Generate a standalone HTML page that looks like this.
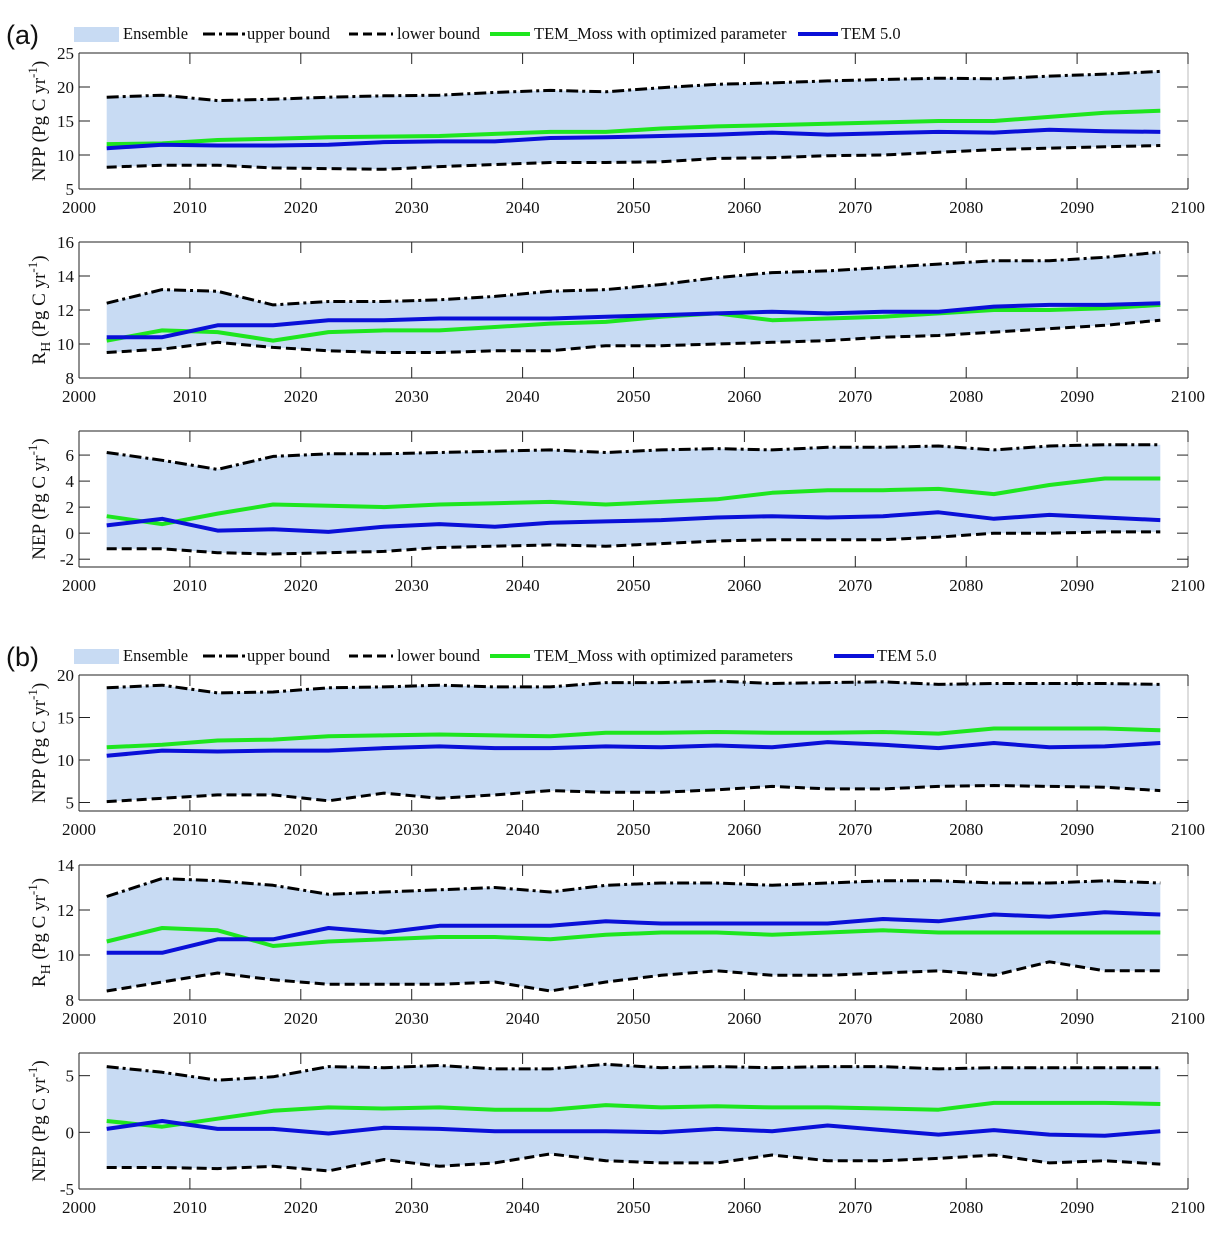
<!DOCTYPE html>
<html><head><meta charset="utf-8">
<style>
html,body{margin:0;padding:0;background:#fff;}
svg{display:block;font-family:"Liberation Serif",serif;}
.lab{font-family:"Liberation Sans",sans-serif;}
</style></head>
<body>
<svg id="chart" width="1220" height="1233" viewBox="0 0 1220 1233" xmlns="http://www.w3.org/2000/svg"></svg>
<script>
const years = [2002.5,2007.5,2012.5,2017.5,2022.5,2027.5,2032.5,2037.5,2042.5,2047.5,2052.5,2057.5,2062.5,2067.5,2072.5,2077.5,2082.5,2087.5,2092.5,2097.5];
const xTicks = [2000,2010,2020,2030,2040,2050,2060,2070,2080,2090,2100];

const aNppUpper = [18.5,18.8,18.0,18.2,18.5,18.7,18.8,19.2,19.5,19.3,19.9,20.4,20.6,20.9,21.1,21.3,21.2,21.6,21.9,22.3];
const aNppLower = [8.2,8.5,8.5,8.1,8.0,7.9,8.3,8.6,8.9,8.9,9.0,9.5,9.6,9.9,10.0,10.4,10.8,11.0,11.2,11.4];
const aNppMoss = [11.6,11.7,12.2,12.4,12.6,12.7,12.8,13.1,13.4,13.4,13.9,14.2,14.4,14.6,14.8,15.0,15.0,15.6,16.2,16.5];
const aNppTem = [11.0,11.5,11.4,11.4,11.5,11.9,12.0,12.0,12.5,12.6,12.8,13.0,13.3,13.0,13.2,13.4,13.3,13.7,13.5,13.4];

const aRhUpper = [12.4,13.2,13.1,12.3,12.5,12.5,12.6,12.8,13.1,13.2,13.5,13.9,14.2,14.3,14.5,14.7,14.9,14.9,15.1,15.4];
const aRhLower = [9.5,9.7,10.1,9.8,9.6,9.5,9.5,9.6,9.6,9.9,9.9,10.0,10.1,10.2,10.4,10.5,10.7,10.9,11.1,11.4];
const aRhMoss = [10.2,10.8,10.7,10.2,10.7,10.8,10.8,11.0,11.2,11.3,11.6,11.8,11.4,11.5,11.6,11.8,12.0,12.0,12.1,12.3];
const aRhTem = [10.4,10.4,11.1,11.1,11.4,11.4,11.5,11.5,11.5,11.6,11.7,11.8,11.9,11.8,11.9,11.9,12.2,12.3,12.3,12.4];

const aNepUpper = [6.2,5.6,4.9,5.9,6.1,6.1,6.2,6.3,6.4,6.2,6.4,6.5,6.4,6.6,6.6,6.7,6.4,6.7,6.8,6.8];
const aNepLower = [-1.2,-1.2,-1.5,-1.6,-1.5,-1.4,-1.1,-1.0,-0.9,-1.0,-0.8,-0.6,-0.5,-0.5,-0.5,-0.3,0.0,0.0,0.1,0.1];
const aNepMoss = [1.3,0.7,1.5,2.2,2.1,2.0,2.2,2.3,2.4,2.2,2.4,2.6,3.1,3.3,3.3,3.4,3.0,3.7,4.2,4.2];
const aNepTem = [0.6,1.1,0.2,0.3,0.1,0.5,0.7,0.5,0.8,0.9,1.0,1.2,1.3,1.2,1.3,1.6,1.1,1.4,1.2,1.0];

const bNppUpper = [18.5,18.8,17.9,18.0,18.5,18.6,18.8,18.6,18.6,19.1,19.1,19.3,19.0,19.1,19.2,18.9,19.0,19.0,19.0,18.9];
const bNppLower = [5.1,5.5,5.9,5.9,5.2,6.1,5.5,5.9,6.4,6.2,6.2,6.5,6.9,6.6,6.6,6.9,7.0,6.9,6.8,6.4];
const bNppMoss = [11.5,11.8,12.3,12.4,12.8,12.9,13.0,12.9,12.8,13.2,13.2,13.3,13.2,13.2,13.3,13.1,13.7,13.7,13.7,13.5];
const bNppTem = [10.5,11.1,11.0,11.1,11.1,11.4,11.6,11.4,11.4,11.6,11.5,11.7,11.5,12.1,11.8,11.4,12.0,11.5,11.6,12.0];

const bRhUpper = [12.6,13.4,13.3,13.1,12.7,12.8,12.9,13.0,12.8,13.1,13.2,13.2,13.1,13.2,13.3,13.3,13.2,13.2,13.3,13.2];
const bRhLower = [8.4,8.8,9.2,8.9,8.7,8.7,8.7,8.8,8.4,8.8,9.1,9.3,9.1,9.1,9.2,9.3,9.1,9.7,9.3,9.3];
const bRhMoss = [10.6,11.2,11.1,10.4,10.6,10.7,10.8,10.8,10.7,10.9,11.0,11.0,10.9,11.0,11.1,11.0,11.0,11.0,11.0,11.0];
const bRhTem = [10.1,10.1,10.7,10.7,11.2,11.0,11.3,11.3,11.3,11.5,11.4,11.4,11.4,11.4,11.6,11.5,11.8,11.7,11.9,11.8];

const bNepUpper = [5.8,5.3,4.6,4.9,5.8,5.7,5.9,5.6,5.6,6.0,5.7,5.8,5.7,5.8,5.8,5.6,5.7,5.7,5.7,5.7];
const bNepLower = [-3.1,-3.1,-3.2,-3.0,-3.4,-2.4,-3.0,-2.7,-1.9,-2.5,-2.7,-2.7,-2.0,-2.5,-2.5,-2.3,-2.0,-2.7,-2.5,-2.8];
const bNepMoss = [1.0,0.5,1.2,1.9,2.2,2.1,2.2,2.0,2.0,2.4,2.2,2.3,2.2,2.2,2.1,2.0,2.6,2.6,2.6,2.5];
const bNepTem = [0.3,1.0,0.3,0.3,-0.1,0.4,0.3,0.1,0.1,0.1,0.0,0.3,0.1,0.6,0.2,-0.2,0.2,-0.2,-0.3,0.1];

const svg = document.getElementById('chart');
const NS = 'http://www.w3.org/2000/svg';
function mk(tag, attrs, parent){ const e=document.createElementNS(NS,tag); for(const k in attrs) e.setAttribute(k,attrs[k]); (parent||svg).appendChild(e); return e; }

const X0=79, X1=1188;
function xs(v){ return X0 + (v-2000)/100*(X1-X0); }

const panels = [
 {name:'a-npp', top:53, bot:189, ymin:5, ymax:25, ticks:[5,10,15,20,25], up:aNppUpper, lo:aNppLower, moss:aNppMoss, tem:aNppTem, lab:'NPP'},
 {name:'a-rh', top:242, bot:378, ymin:8, ymax:16, ticks:[8,10,12,14,16], up:aRhUpper, lo:aRhLower, moss:aRhMoss, tem:aRhTem, lab:'RH'},
 {name:'a-nep', top:431, bot:567, ymin:-2.6, ymax:7.85, ticks:[-2,0,2,4,6], up:aNepUpper, lo:aNepLower, moss:aNepMoss, tem:aNepTem, lab:'NEP'},
 {name:'b-npp', top:675, bot:811, ymin:4, ymax:20, ticks:[5,10,15,20], up:bNppUpper, lo:bNppLower, moss:bNppMoss, tem:bNppTem, lab:'NPP'},
 {name:'b-rh', top:865, bot:1000, ymin:8, ymax:14, ticks:[8,10,12,14], up:bRhUpper, lo:bRhLower, moss:bRhMoss, tem:bRhTem, lab:'RH'},
 {name:'b-nep', top:1053, bot:1189, ymin:-5, ymax:7, ticks:[-5,0,5], up:bNepUpper, lo:bNepLower, moss:bNepMoss, tem:bNepTem, lab:'NEP'}
];

panels.forEach(p=>{
  const g = mk('g',{});
  
  
  const ys = v => p.bot - (v-p.ymin)/(p.ymax-p.ymin)*(p.bot-p.top);
  let d = years.map((y,i)=>(i?'L':'M')+xs(y).toFixed(1)+','+ys(p.up[i]).toFixed(1)).join('');
  for(let i=years.length-1;i>=0;i--) d+='L'+xs(years[i]).toFixed(1)+','+ys(p.lo[i]).toFixed(1);
  const band = mk('path',{d:d+'Z',fill:'#c8dbf3',stroke:'none'},g);
  
  
  const line=(arr,col,w,dash,nm)=>{
    const e=mk('polyline',{points:years.map((y,i)=>xs(y).toFixed(1)+','+ys(arr[i]).toFixed(1)).join(' '),fill:'none',stroke:col,'stroke-width':w,'stroke-dasharray':dash,'stroke-linejoin':'round'},g);
    
    
  };
  line(p.up,'#000',3,'12 4 3 4','upper-bound-line');
  line(p.lo,'#000',3,'10 5','lower-bound-line');
  line(p.moss,'#1ee61e',4,'none','tem-moss-line');
  line(p.tem,'#0a10d8',4,'none','tem5-line');
  mk('line',{x1:X0,y1:p.top,x2:X1,y2:p.top,stroke:'#222','stroke-width':1},g);
  mk('line',{x1:X0,y1:p.bot,x2:X1,y2:p.bot,stroke:'#222','stroke-width':1},g);
  mk('line',{x1:X0,y1:p.top,x2:X0,y2:p.bot,stroke:'#222','stroke-width':1},g);
  mk('line',{x1:X1,y1:p.top,x2:X1,y2:p.bot,stroke:'#bbb','stroke-width':1},g);
  xTicks.forEach(t=>{
    const x=xs(t);
    mk('line',{x1:x,y1:p.bot,x2:x,y2:p.bot-11,stroke:'#222'},g);
    mk('line',{x1:x,y1:p.top,x2:x,y2:p.top+11,stroke:'#222'},g);
    const tx=mk('text',{x:x,y:p.bot+24,'font-size':17,'text-anchor':'middle',fill:'#111'},g);
    tx.textContent=t;
    
    
  });
  p.ticks.forEach(t=>{
    const y=ys(t);
    mk('line',{x1:X0,y1:y,x2:X0+11,y2:y,stroke:'#222'},g);
    mk('line',{x1:X1,y1:y,x2:X1-11,y2:y,stroke:'#222'},g);
    const tx=mk('text',{x:X0-5,y:y+6,'font-size':17,'text-anchor':'end',fill:'#111'},g);
    tx.textContent=t;
    
    
  });
  const cy=(p.top+p.bot)/2;
  const lt=mk('text',{x:0,y:0,'font-size':19,'text-anchor':'middle',fill:'#111',transform:'translate(45,'+cy+') rotate(-90)'},g);
  
  
  if(p.lab==='RH'){
    lt.innerHTML='R<tspan font-size="14" dy="5">H</tspan><tspan dy="-5"> (Pg C yr</tspan><tspan font-size="13" dy="-8">-1</tspan><tspan dy="8">)</tspan>';
  } else {
    lt.innerHTML=p.lab+' (Pg C yr<tspan font-size="13" dy="-8">-1</tspan><tspan dy="8">)</tspan>';
  }
});

function legend(y, label, mossText, mossEnd){
  const g=mk('g',{});
  
  
  const p=mk('text',{x:6,y:y+10,'font-size':27,fill:'#111',class:'lab'},g);
  p.textContent='('+label+')';
  
  
  mk('rect',{x:74,y:y-7,width:45,height:15,fill:'#c8dbf3'},g);
  const t=(x,s)=>{const e=mk('text',{x:x,y:y+5,'font-size':16.5,fill:'#111'},g);e.textContent=s;return e;};
  t(123,'Ensemble');
  mk('line',{x1:203,y1:y,x2:245,y2:y,stroke:'#000','stroke-width':3,'stroke-dasharray':'12 4 3 4'},g);
  t(247,'upper bound');
  mk('line',{x1:349,y1:y,x2:393,y2:y,stroke:'#000','stroke-width':3,'stroke-dasharray':'9 5'},g);
  t(397,'lower bound');
  mk('line',{x1:490,y1:y,x2:530,y2:y,stroke:'#1ee61e','stroke-width':4},g);
  t(534,mossText);
  mk('line',{x1:mossEnd+8,y1:y,x2:mossEnd+48,y2:y,stroke:'#0a10d8','stroke-width':4},g);
  t(mossEnd+51,'TEM 5.0');
}
legend(34,'a','TEM_Moss with optimized parameter',790);
legend(656,'b','TEM_Moss with optimized parameters',826);
</script>
</body></html>
